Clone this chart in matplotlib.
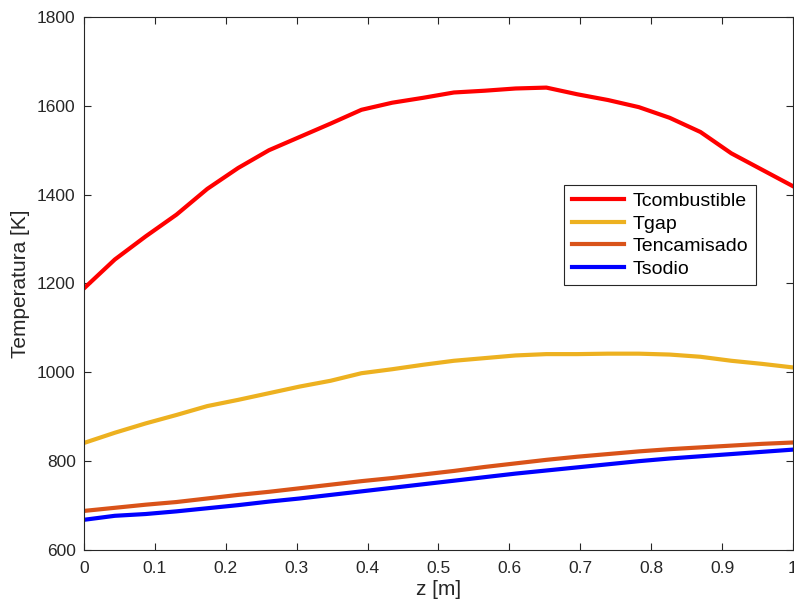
import numpy as np
import matplotlib.pyplot as plt

plt.rcParams['font.family'] = ['Liberation Sans', 'DejaVu Sans']

# datos (24 puntos en z)
z = np.linspace(0, 1, 24)
T_comb = [1189, 1254, 1306, 1355, 1413, 1460, 1500, 1530, 1560, 1591, 1607, 1618,
          1630, 1634, 1639, 1641, 1626, 1613, 1597, 1573, 1541, 1493, 1456, 1419]
T_gap = [841, 864, 885, 904, 924, 938, 953, 968, 981, 998, 1007, 1017,
         1026, 1032, 1038, 1041, 1041, 1042, 1042, 1040, 1035, 1026, 1019, 1011]
T_enc = [688, 695, 702, 708, 716, 724, 731, 739, 747, 755, 762, 770,
         778, 787, 795, 803, 810, 816, 822, 827, 831, 835, 839, 842]
T_sod = [668, 677, 681, 687, 694, 701, 709, 716, 724, 732, 740, 748,
         756, 764, 772, 779, 786, 793, 800, 806, 811, 816, 821, 826]

nombres = ['Tcombustible', 'Tgap', 'Tencamisado', 'Tsodio']
colores = ['#FF0000', '#EDB120', '#D95319', '#0000FF']

fig = plt.figure(figsize=(7.94, 6.04), dpi=100)
ax = fig.add_axes([0.1058, 0.0894, 0.8929, 0.8825])

for serie, nombre, color in zip([T_comb, T_gap, T_enc, T_sod], nombres, colores):
    ax.plot(z, serie, color=color, lw=3, label=nombre)

ax.set_xlim(0, 1)
ax.set_ylim(600, 1800)
ax.set_xticks(np.arange(0, 1.01, 0.1))
ax.set_xticklabels(['0', '0.1', '0.2', '0.3', '0.4', '0.5', '0.6', '0.7', '0.8', '0.9', '1'])
ax.set_yticks(np.arange(600, 1801, 200))

gris = '#262626'
for s in ax.spines.values():
    s.set_color(gris)
    s.set_linewidth(0.8)
ax.tick_params(direction='in', top=True, right=True, length=5, width=0.8,
               color=gris, labelcolor=gris, labelsize=12.5)
ax.tick_params(axis='x', pad=8)
ax.tick_params(axis='y', pad=6)

ax.set_xlabel('z [m]', fontsize=15, color=gris, labelpad=3)
ax.set_ylabel('Temperatura [K]', fontsize=15, color=gris, labelpad=5)

leg = ax.legend(loc='upper left', bbox_to_anchor=(0.677, 0.685), borderaxespad=0,
                fontsize=14, handlelength=2.7, handletextpad=0.45, labelspacing=0.25,
                frameon=True, fancybox=False, edgecolor=gris, framealpha=1)
leg.get_frame().set_linewidth(0.8)

fig.savefig('out.png', dpi=100)
